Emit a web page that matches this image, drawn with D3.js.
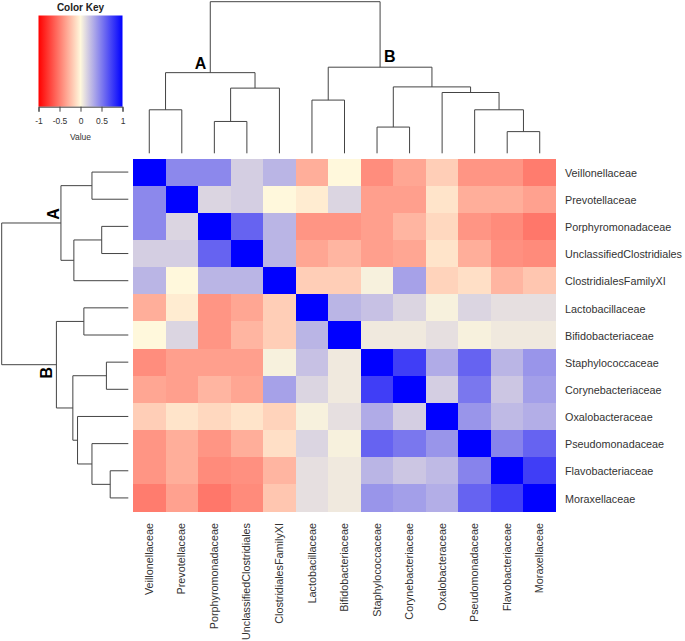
<!DOCTYPE html>
<html><head><meta charset="utf-8">
<script src="https://cdn.jsdelivr.net/npm/d3@7"></script>
<style>body{margin:0;background:#fff}svg{display:block;font-family:"Liberation Sans",Arial,sans-serif}</style>
</head><body><svg id="chart" width="685" height="641"></svg>
<script>
const taxa = ["Veillonellaceae","Prevotellaceae","Porphyromonadaceae","UnclassifiedClostridiales","ClostridialesFamilyXI","Lactobacillaceae","Bifidobacteriaceae","Staphylococcaceae","Corynebacteriaceae","Oxalobacteraceae","Pseudomonadaceae","Flavobacteriaceae","Moraxellaceae"];
const rowVeillonellaceae = [1,0.45,0.45,0.17,0.27,-0.3,0.0,-0.43,-0.33,-0.17,-0.4,-0.4,-0.5];
const rowPrevotellaceae = [0.45,1,0.14,0.17,0.0,-0.05,0.14,-0.36,-0.36,-0.08,-0.3,-0.3,-0.35];
const rowPorphyromonadaceae = [0.45,0.14,1,0.6,0.27,-0.4,-0.4,-0.36,-0.27,-0.13,-0.4,-0.44,-0.52];
const rowUnclassifiedClostridiales = [0.17,0.17,0.6,1,0.27,-0.33,-0.27,-0.36,-0.33,-0.08,-0.3,-0.42,-0.44];
const rowClostridialesFamilyXI = [0.27,0.0,0.27,0.27,1,-0.17,-0.17,0.03,0.35,-0.15,-0.1,-0.27,-0.2];
const rowLactobacillaceae = [-0.3,-0.05,-0.4,-0.33,-0.17,1,0.27,0.22,0.14,0.03,0.14,0.1,0.1];
const rowBifidobacteriaceae = [0.0,0.14,-0.4,-0.27,-0.17,0.27,1,0.06,0.06,0.1,0.03,0.06,0.06];
const rowStaphylococcaceae = [-0.43,-0.36,-0.36,-0.36,0.03,0.22,0.06,1,0.75,0.31,0.6,0.27,0.4];
const rowCorynebacteriaceae = [-0.33,-0.36,-0.27,-0.33,0.35,0.14,0.06,0.75,1,0.17,0.52,0.2,0.36];
const rowOxalobacteraceae = [-0.17,-0.08,-0.13,-0.08,-0.15,0.03,0.1,0.31,0.17,1,0.4,0.25,0.3];
const rowPseudomonadaceae = [-0.4,-0.3,-0.4,-0.3,-0.1,0.14,0.03,0.6,0.52,0.4,1,0.47,0.6];
const rowFlavobacteriaceae = [-0.4,-0.3,-0.44,-0.42,-0.27,0.1,0.06,0.27,0.2,0.25,0.47,1,0.75];
const rowMoraxellaceae = [-0.5,-0.35,-0.52,-0.44,-0.2,0.1,0.06,0.4,0.36,0.3,0.6,0.75,1];
const matrix = [rowVeillonellaceae,rowPrevotellaceae,rowPorphyromonadaceae,rowUnclassifiedClostridiales,rowClostridialesFamilyXI,rowLactobacillaceae,rowBifidobacteriaceae,rowStaphylococcaceae,rowCorynebacteriaceae,rowOxalobacteraceae,rowPseudomonadaceae,rowFlavobacteriaceae,rowMoraxellaceae];
// hclust-style merges: negative = leaf -(index+1), positive = earlier merge (1-based); third = height
const merges = [[-1,-2,0.287],[-3,-4,0.21],[2,-5,0.43],[1,3,0.532],[-6,-7,0.351],[-8,-9,0.173],[-12,-13,0.143],[-11,7,0.287],[-10,8,0.401],[6,9,0.438],[5,10,0.568],[4,11,1.0]];
const clusterLabels = {4:"A", 11:"B"};
const keyTicks = [-1,-0.5,0,0.5,1];

const svg = d3.select("#chart");
const idx = d3.range(taxa.length);
const x = d3.scaleBand().domain(idx).range([133,556]);
const y = d3.scaleBand().domain(idx).range([158.5,511.5]);
const color = d3.scaleLinear().domain([-1,0,1]).range(["#FF0000","#FFF8DC","#0000FF"]).interpolate(d3.interpolateRgb);

// heatmap cells
const cells = [];
matrix.forEach((row,i)=>row.forEach((v,j)=>cells.push({i,j,v})));
svg.append("g").selectAll("rect").data(cells).join("rect")
  .attr("x",d=>x(d.j)).attr("y",d=>y(d.i))
  .attr("width",x.bandwidth()+0.3).attr("height",y.bandwidth()+0.3)
  .attr("fill",d=>color(d.v)).attr("shape-rendering","crispEdges");

// right labels
svg.append("g").selectAll("text").data(taxa).join("text")
  .attr("x",565).attr("y",(d,i)=>y(i)+y.bandwidth()/2+4.7)
  .attr("font-size","10.8px").attr("fill","#333").text(d=>d);
// bottom labels
svg.append("g").selectAll("text").data(taxa).join("text")
  .attr("transform",(d,i)=>`translate(${x(i)+x.bandwidth()/2+3.6},523) rotate(-90)`)
  .attr("text-anchor","end").attr("font-size","10.8px").attr("fill","#333").text(d=>d);

// dendrogram
function buildNodes(pos){
  const nodes=[];
  const get = k => k<0 ? {p:pos(-k-1), h:0} : nodes[k-1];
  merges.forEach((m,mi)=>{
    const a=get(m[0]), b=get(m[1]);
    nodes.push({p:(a.p+b.p)/2, h:m[2], a, b, id:mi+1});
  });
  return nodes;
}
const colH = d3.scaleLinear().domain([0,1]).range([153.3,1.7]);
const rowH = d3.scaleLinear().domain([0,1]).range([128.3,1.7]);
const colNodes = buildNodes(i=>x(i)+x.bandwidth()/2);
const rowNodes = buildNodes(i=>y(i)+y.bandwidth()/2);
const gd = svg.append("g").attr("fill","none").attr("stroke","#444").attr("stroke-width",1);
colNodes.forEach(n=>{
  const yy=colH(n.h);
  gd.append("path").attr("d",`M${n.a.p},${colH(n.a.h)}V${yy}H${n.b.p}V${colH(n.b.h)}`);
});
rowNodes.forEach(n=>{
  const xx=rowH(n.h);
  gd.append("path").attr("d",`M${rowH(n.a.h)},${n.a.p}H${xx}V${n.b.p}H${rowH(n.b.h)}`);
});
// cluster letters
colNodes.filter(n=>clusterLabels[n.id]).forEach(n=>{
  const isA = clusterLabels[n.id]==="A";
  svg.append("text").attr("x",isA? n.p-4 : n.p+4).attr("y",colH(n.h)-(isA?3.5:5.5))
    .attr("text-anchor",isA?"end":"start").attr("font-size","16px").attr("font-weight","bold").attr("fill","#000")
    .text(clusterLabels[n.id]);
});
rowNodes.filter(n=>clusterLabels[n.id]).forEach(n=>{
  const isA = clusterLabels[n.id]==="A";
  const tx = rowH(n.h)-(isA?1.5:4.5);
  const ty = isA ? n.p-9 : n.p+8;
  svg.append("text").attr("transform",`translate(${tx},${ty}) rotate(-90)`)
    .attr("text-anchor","middle").attr("font-size","16px").attr("font-weight","bold").attr("fill","#000")
    .text(clusterLabels[n.id]);
});

// color key
const kx = d3.scaleLinear().domain([-1,1]).range([38.5,122.5]);
const defs = svg.append("defs");
const grad = defs.append("linearGradient").attr("id","kg");
d3.range(0,1.0001,0.05).forEach(t=>grad.append("stop").attr("offset",t).attr("stop-color",color(-1+2*t)));
svg.append("rect").attr("x",kx(-1)).attr("y",15.5).attr("width",kx(1)-kx(-1)).attr("height",91.2).attr("fill","url(#kg)");
const ka = svg.append("g").attr("transform","translate(0,106.7)")
  .call(d3.axisBottom(kx).tickValues(keyTicks).tickSize(5).tickFormat(d=>String(d)));
ka.select(".domain").attr("stroke","#444");
ka.selectAll(".tick line").attr("stroke","#444");
ka.selectAll(".tick text").attr("font-size","8.5px").attr("font-family","Liberation Sans, Arial, sans-serif").attr("fill","#333").attr("dy","1.05em");
svg.append("text").attr("x",80.5).attr("y",10.5).attr("text-anchor","middle").attr("font-size","10px").attr("font-weight","bold").attr("fill","#222").text("Color Key");
svg.append("text").attr("x",80.5).attr("y",140).attr("text-anchor","middle").attr("font-size","8.5px").attr("fill","#333").text("Value");
</script></body></html>
